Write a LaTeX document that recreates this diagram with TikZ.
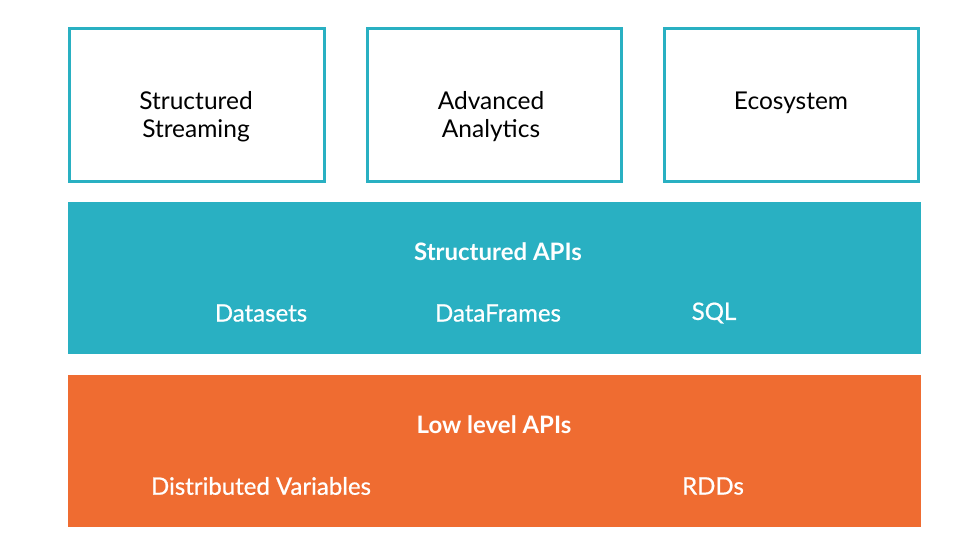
\documentclass[tikz,border=0pt]{standalone}
\usepackage{fontspec}
\setmainfont{Lato}
\newfontfamily\medfont[FakeBold=0.7]{Lato}
\definecolor{teal}{RGB}{41,176,194}
\definecolor{orng}{RGB}{239,108,49}
\tikzset{
  topbox/.style={draw=teal, line width=3pt, fill=white},
  lbl/.style={font=\fontsize{24.5}{28}\selectfont, text=black, align=center, inner sep=0pt},
  wlbl/.style={font=\fontsize{24}{28}\selectfont\medfont, text=white, inner sep=0pt},
  blbl/.style={font=\fontsize{24}{28}\selectfont\bfseries, text=white, inner sep=0pt}
}
\begin{document}
\begin{tikzpicture}[x=1pt,y=-1pt]
\useasboundingbox (0,0) rectangle (962,556);
\fill[white] (0,0) rectangle (962,556);
% top boxes
\draw[topbox] (69.5,28.5) rectangle (324.5,181.5);
\draw[topbox] (367.5,28.5) rectangle (621.5,181.5);
\draw[topbox] (664.5,28.5) rectangle (918.5,181.5);
\node[lbl] (ss) at (196,117) {Structured\\Streaming};
\node[lbl] (aa) at (491,117) {Advanced\\Analytics};
\node[lbl] (eco) at (791,103) {Ecosystem};
% structured APIs band
\fill[teal] (68,202) rectangle (921,354);
\node[blbl] (sapi) at (498,252) {Structured APIs};
\node[wlbl] (ds) at (261,313) {Datasets};
\node[wlbl] (df) at (498,313) {DataFrames};
\node[wlbl] (sql) at (714,313) {SQL};
% low level band
\fill[orng] (68,375) rectangle (921,527);
\node[blbl] (lapi) at (494,425) {Low level APIs};
\node[wlbl] (dv) at (261,486) {Distributed Variables};
\node[wlbl] (rdd) at (713,486) {RDDs};
\end{tikzpicture}
\end{document}
